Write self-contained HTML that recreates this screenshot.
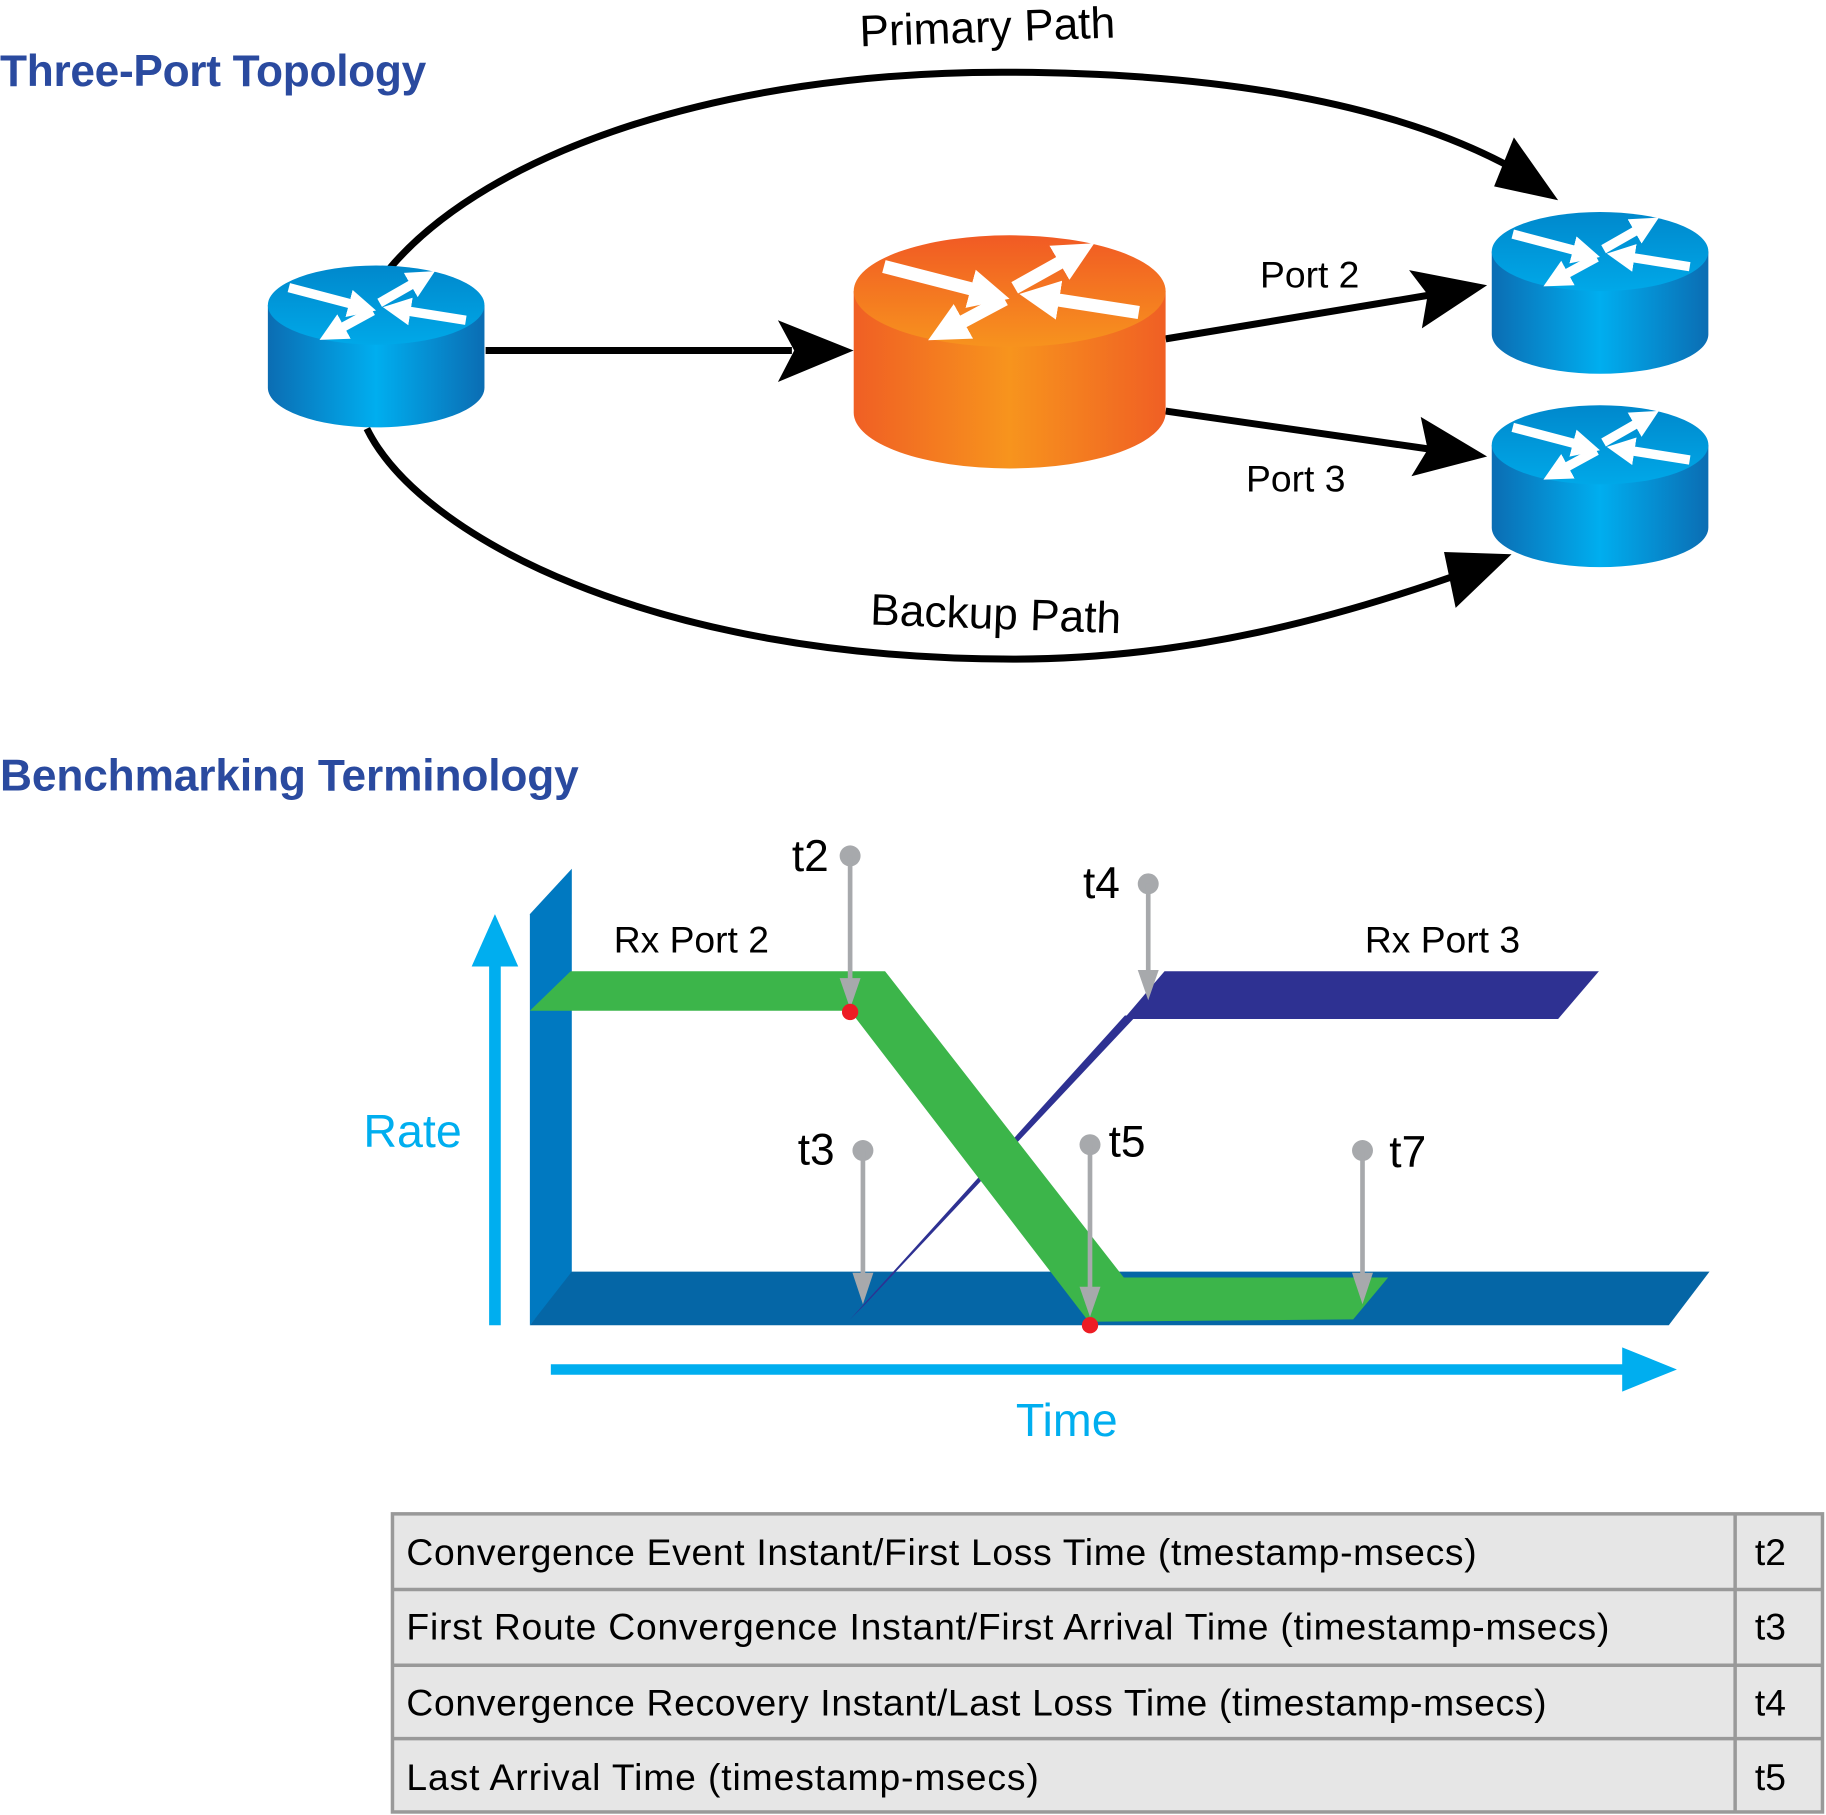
<!DOCTYPE html>
<html><head><meta charset="utf-8"><style>html,body{margin:0;padding:0;background:#fff}svg{display:block}</style></head>
<body>
<svg width="1826" height="1815" viewBox="0 0 1568 1558.6" xmlns="http://www.w3.org/2000/svg" font-family="Liberation Sans, sans-serif">
<defs>
<linearGradient id="bb" x1="0" x2="1" y1="0" y2="0"><stop offset="0" stop-color="#0b6db3"/><stop offset="0.5" stop-color="#00aeef"/><stop offset="1" stop-color="#0b6db3"/></linearGradient>
<linearGradient id="bt" x1="0" x2="0" y1="0" y2="1"><stop offset="0" stop-color="#0088cc"/><stop offset="1" stop-color="#00a8e8"/></linearGradient>
<linearGradient id="ob" x1="0" x2="1" y1="0" y2="0"><stop offset="0" stop-color="#f05f24"/><stop offset="0.5" stop-color="#f7941d"/><stop offset="1" stop-color="#f05f24"/></linearGradient>
<linearGradient id="ot" x1="0" x2="0" y1="0" y2="1"><stop offset="0" stop-color="#f15a24"/><stop offset="1" stop-color="#f7931e"/></linearGradient>
<marker id="wa" viewBox="0 0 10 10" refX="4" refY="5" markerWidth="3" markerHeight="3" orient="auto"><path d="M0,0L10,5L0,10z" fill="#fff"/></marker>
<g id="arrows" stroke="#fff" stroke-width="8" fill="none">
<line x1="-75" y1="-15" x2="-14" y2="1" marker-end="url(#wa)"/>
<line x1="3" y1="-2" x2="38" y2="-22" marker-end="url(#wa)"/>
<line x1="77" y1="13" x2="20" y2="4" marker-end="url(#wa)"/>
<line x1="-3" y1="5" x2="-36" y2="23" marker-end="url(#wa)"/>
</g>
<g id="br">
<path d="M-93,0 L-93,71 A93,34 0 0 0 93,71 L93,0 z" fill="url(#bb)"/>
<ellipse cx="0" cy="0" rx="93" ry="34" fill="url(#bt)"/>
<use href="#arrows"/>
</g>
<g id="or">
<path d="M-93,0 L-93,74 A93,34 0 0 0 93,74 L93,0 z" fill="url(#ob)"/>
<ellipse cx="0" cy="0" rx="93" ry="34" fill="url(#ot)"/>
<use href="#arrows"/>
</g>
</defs>

<text x="0" y="74" font-size="38" font-weight="bold" fill="#2a4a9f" textLength="366">Three-Port Topology</text>
<text x="848" y="36" font-size="38" text-anchor="middle" fill="#000" transform="rotate(-2 848 30)">Primary Path</text>

<path d="M335,230 C420,130 620,62 860,62 C1050,62 1200,90 1300,145" fill="none" stroke="#000" stroke-width="6"/>
<polygon points="1338,172 1283,160 1300,118" fill="#000"/>
<path d="M315,368 C360,460 560,566 870,566 C1020,566 1150,530 1262,490" fill="none" stroke="#000" stroke-width="6"/>
<polygon points="1298,476 1250,522 1240,474" fill="#000"/>
<text x="855" y="540" font-size="38" text-anchor="middle" fill="#000" transform="rotate(2 855 530)">Backup Path</text>

<line x1="417" y1="301" x2="680" y2="301" stroke="#000" stroke-width="6"/>
<polygon points="733,301 668,275 682,301 668,328" fill="#000"/>
<line x1="1001" y1="291" x2="1230" y2="253" stroke="#000" stroke-width="6"/>
<polygon points="1277,245 1221,282 1226,253 1210,232" fill="#000"/>
<line x1="1001" y1="353" x2="1230" y2="386" stroke="#000" stroke-width="6"/>
<polygon points="1277,392 1212,409 1226,386 1220,358" fill="#000"/>
<text x="1082" y="247" font-size="32" fill="#000">Port 2</text>
<text x="1070" y="422" font-size="32" fill="#000">Port 3</text>

<use href="#br" transform="translate(323,262)"/>
<use href="#or" transform="translate(867,250) scale(1.44,1.41)"/>
<use href="#br" transform="translate(1374,216)"/>
<use href="#br" transform="translate(1374,382)"/>

<text x="0" y="679" font-size="38" font-weight="bold" fill="#2a4a9f" textLength="497">Benchmarking Terminology</text>

<line x1="425" y1="1138" x2="425" y2="825" stroke="#00aeef" stroke-width="10"/>
<polygon points="425,785 405,830 445,830" fill="#00aeef"/>
<text x="312" y="985" font-size="40" fill="#00aeef">Rate</text>

<polygon points="455,785 491,746 491,1095 455,1138" fill="#0079c1"/>
<polygon points="455,1138 491,1092 1468,1092 1433,1138" fill="#0566a6"/>

<polygon points="730,1133 966,872 976,872 743,1120" fill="#2e3192"/>
<polygon points="965,875 1000,834 1373,834 1338,875" fill="#2e3192"/>
<polygon points="455,868 490,834 760,834 965,1097 1192,1097 1162,1133 935,1135 730,868" fill="#3cb54a"/>

<text x="527" y="818" font-size="32" fill="#000">Rx Port 2</text>
<text x="1172" y="818" font-size="32" fill="#000">Rx Port 3</text>

<g fill="#a7a9ac" stroke="#a7a9ac">
<circle cx="730" cy="735" r="9" stroke="none"/><line x1="730" y1="735" x2="730" y2="845" stroke-width="4"/><polygon points="730,866 721,840 739,840" stroke="none"/>
<circle cx="986" cy="759" r="9" stroke="none"/><line x1="986" y1="759" x2="986" y2="838" stroke-width="4"/><polygon points="986,859 977,833 995,833" stroke="none"/>
<circle cx="741" cy="988" r="9" stroke="none"/><line x1="741" y1="988" x2="741" y2="1098" stroke-width="4"/><polygon points="741,1120 732,1093 750,1093" stroke="none"/>
<circle cx="936" cy="983" r="9" stroke="none"/><line x1="936" y1="983" x2="936" y2="1110" stroke-width="4"/><polygon points="936,1131 927,1105 945,1105" stroke="none"/>
<circle cx="1170" cy="988" r="9" stroke="none"/><line x1="1170" y1="988" x2="1170" y2="1098" stroke-width="4"/><polygon points="1170,1120 1161,1093 1179,1093" stroke="none"/>
</g>
<circle cx="730" cy="869" r="7" fill="#ed1c24"/>
<circle cx="936" cy="1138" r="7" fill="#ed1c24"/>

<g font-size="38" fill="#000">
<text x="680" y="748">t2</text>
<text x="930" y="771">t4</text>
<text x="685" y="1000">t3</text>
<text x="952" y="993">t5</text>
<text x="1193" y="1002">t7</text>
</g>

<line x1="473" y1="1176" x2="1400" y2="1176" stroke="#00aeef" stroke-width="9"/>
<polygon points="1440,1176 1393,1157 1393,1195" fill="#00aeef"/>
<text x="916" y="1233" font-size="40" fill="#00aeef" text-anchor="middle">Time</text>

<g stroke="#999" stroke-width="3" fill="#e6e6e6">
<rect x="337" y="1300" width="1228" height="256"/>
<line x1="337" y1="1365" x2="1565" y2="1365"/>
<line x1="337" y1="1430" x2="1565" y2="1430"/>
<line x1="337" y1="1493" x2="1565" y2="1493"/>
<line x1="1490" y1="1300" x2="1490" y2="1556"/>
</g>
<g font-size="32" fill="#000">
<text x="349" y="1344" textLength="919">Convergence Event Instant/First Loss Time (tmestamp-msecs)</text>
<text x="349" y="1408" textLength="1033">First Route Convergence Instant/First Arrival Time (timestamp-msecs)</text>
<text x="349" y="1473" textLength="979">Convergence Recovery Instant/Last Loss Time (timestamp-msecs)</text>
<text x="349" y="1537" textLength="543">Last Arrival Time (timestamp-msecs)</text>
<text x="1507" y="1344">t2</text>
<text x="1507" y="1408">t3</text>
<text x="1507" y="1473">t4</text>
<text x="1507" y="1537">t5</text>
</g>
</svg>
</body></html>
